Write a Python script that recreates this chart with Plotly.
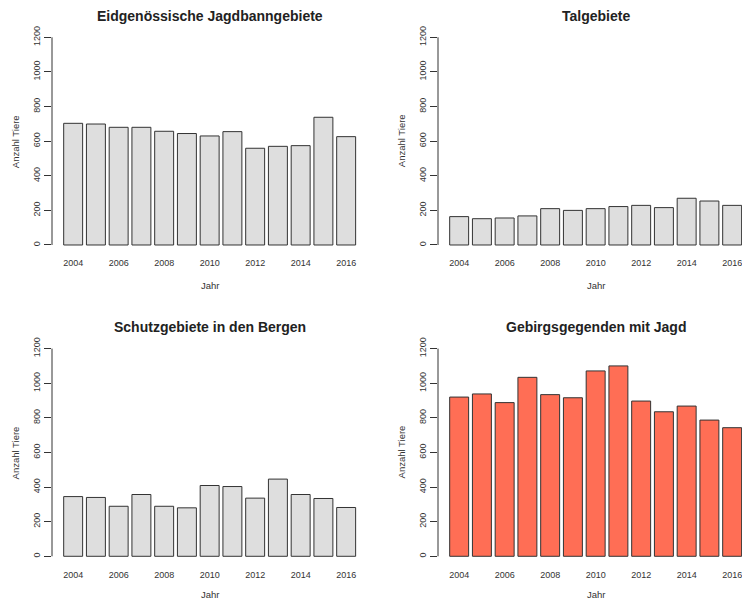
import plotly.graph_objects as go

years = ["2004", "2005", "2006", "2007", "2008", "2009", "2010",
         "2011", "2012", "2013", "2014", "2015", "2016"]
label_years = ["2004", "2006", "2008", "2010", "2012", "2014", "2016"]
y_ticks = [0, 200, 400, 600, 800, 1000, 1200]

jagdbann = [703, 699, 680, 680, 657, 644, 630, 655, 559, 570, 574, 738, 626]
talgebiete = [164, 152, 156, 168, 210, 200, 210, 222, 229, 216, 270, 254, 229]
schutzgebiete = [345, 340, 289, 357, 289, 280, 409, 403, 336, 446, 357, 334, 282]
gebirge_jagd = [920, 938, 888, 1034, 934, 916, 1071, 1100, 897, 835, 868, 787, 743]

titles = ["Eidgenössische Jagdbanngebiete", "Talgebiete",
          "Schutzgebiete in den Bergen", "Gebirgsgegenden mit Jagd"]
series = [jagdbann, talgebiete, schutzgebiete, gebirge_jagd]
fills = ["#dedede", "#dedede", "#dedede", "#ff6e55"]

W, H = 742, 600
FONT = "Liberation Sans, Arial, sans-serif"

px_per_cat = 22.75
full_w = 13.86 * px_per_cat
# pixel geometry of plot regions (left, right, top, bottom)
panels = [
    (52, 52 + full_w, 29.0, 253.3),
    (438, 742, 29.0, 253.3),
    (52, 52 + full_w, 340.3, 564.6),
    (438, 742, 340.3, 564.6),
]
jahr_offset = [32, 32, 30, 30]

fig = go.Figure()
annotations = []
shapes = []
layout = {}
for i, (vals, title, fill, (l, r, t, b)) in enumerate(zip(series, titles, fills, panels)):
    n = "" if i == 0 else str(i + 1)
    xa, ya = "x" + n, "y" + n
    fig.add_trace(go.Bar(
        x=years, y=vals, xaxis=xa, yaxis=ya,
        marker=dict(color=fill, line=dict(color="#333333", width=1)),
        showlegend=False, hoverinfo="x+y",
    ))
    xr_right = -0.93 + (r - l) / px_per_cat
    layout["xaxis" + n] = dict(
        domain=[l / W, r / W], anchor=ya, type="category",
        range=[-0.93, xr_right], automargin=False,
        tickmode="array", tickvals=label_years, ticktext=label_years,
        ticks="", showline=False, showgrid=False, zeroline=False,
        tickfont=dict(size=9, color="#333333", family=FONT),
        ticklabelstandoff=3,
    )
    layout["yaxis" + n] = dict(
        domain=[1 - b / H, 1 - t / H], anchor=xa,
        range=[-48, 1248], automargin=False,
        tickmode="array", tickvals=y_ticks, ticktext=[str(v) for v in y_ticks],
        ticks="outside", ticklen=7, tickwidth=1, tickcolor="#333333",
        tickangle=-90, showline=False, showgrid=False, zeroline=False,
        tickfont=dict(size=9, color="#333333", family=FONT),
    )
    shapes.append(dict(type="line", xref=xa + " domain", yref=ya,
                       x0=0, x1=0, y0=0, y1=1200,
                       line=dict(color="#333333", width=1)))
    cx = l + full_w / 2
    annotations.append(dict(text="<b>" + title + "</b>", x=cx / W, y=1 - (t - 13) / H,
                            xref="paper", yref="paper", showarrow=False,
                            xanchor="center", yanchor="middle",
                            font=dict(size=14, color="#222222", family=FONT)))
    annotations.append(dict(text="Jahr", x=cx / W, y=1 - (b + jahr_offset[i]) / H,
                            xref="paper", yref="paper", showarrow=False,
                            xanchor="center", yanchor="middle",
                            font=dict(size=9.5, color="#333333", family=FONT)))
    annotations.append(dict(text="Anzahl Tiere", x=(l - 37) / W, y=1 - ((t + b) / 2) / H,
                            xref="paper", yref="paper", showarrow=False, textangle=-90,
                            xanchor="center", yanchor="middle",
                            font=dict(size=9.5, color="#333333", family=FONT)))

fig.update_layout(
    width=W, height=H,
    margin=dict(l=0, r=0, t=0, b=0, autoexpand=False),
    paper_bgcolor="white", plot_bgcolor="white",
    bargap=0.2 / 1.2,
    annotations=annotations, shapes=shapes,
    font=dict(family=FONT),
    **layout,
)
fig.write_html(
    "out.html",
    config={"displayModeBar": False},
    post_script="document.body.style.margin='0';document.body.style.overflow='hidden';",
)
